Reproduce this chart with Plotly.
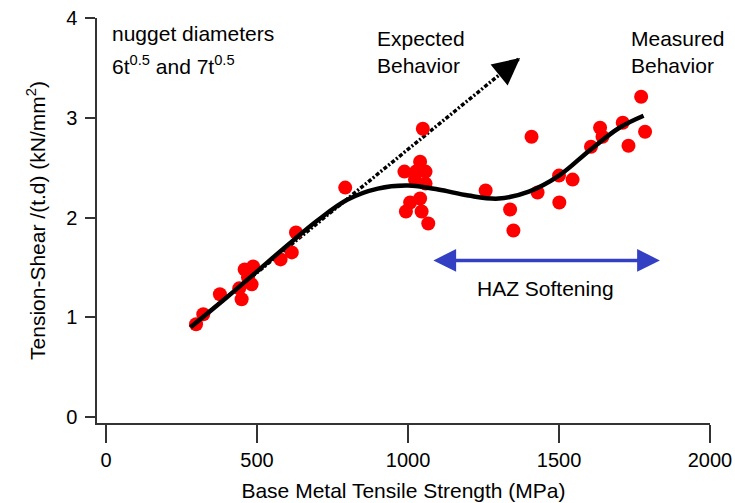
import plotly.graph_objects as go

# Measured data points
pts_x = [298, 322, 377, 449, 441, 482, 459, 487, 470, 578, 615, 629, 792,
         1049, 1409, 988, 1040, 1026, 1058, 1023, 1058, 1007, 1040, 993, 1045, 1067,
         1257, 1338, 1349, 1429, 1772, 1636, 1644, 1711, 1785, 1730, 1606, 1500, 1545, 1501]
pts_y = [0.93, 1.03, 1.23, 1.18, 1.29, 1.33, 1.48, 1.51, 1.40, 1.58, 1.65, 1.85, 2.30,
         2.89, 2.81, 2.46, 2.56, 2.46, 2.46, 2.38, 2.34, 2.15, 2.19, 2.06, 2.06, 1.94,
         2.27, 2.08, 1.87, 2.25, 3.21, 2.90, 2.81, 2.95, 2.86, 2.72, 2.71, 2.42, 2.38, 2.15]

# Measured behavior trend curve
curve_x = [280, 400, 500, 600, 700, 800, 900, 1000, 1100, 1200, 1300, 1400, 1500, 1600, 1700, 1780]
curve_y = [0.90, 1.20, 1.46, 1.72, 1.97, 2.18, 2.29, 2.32, 2.28, 2.22, 2.19, 2.26, 2.42, 2.67, 2.90, 3.02]

# Expected behavior line (start, end)
exp_x = [278, 1371]
exp_y = [0.90, 3.60]

# HAZ softening arrow extent
haz_x = [1079, 1834]
haz_y = 1.57

x_ticks = [0, 500, 1000, 1500, 2000]
y_ticks = [0, 1, 2, 3, 4]

FONT = "Liberation Sans, Arial, sans-serif"

fig = go.Figure()

fig.add_trace(go.Scatter(
    x=exp_x, y=exp_y, mode="lines",
    line=dict(color="black", width=3.5, dash="4px,2px,2px,2px"),
    hoverinfo="skip"))

fig.add_trace(go.Scatter(
    x=pts_x, y=pts_y, mode="markers",
    marker=dict(color="#ff0000", size=14, line=dict(width=0))))

fig.add_trace(go.Scatter(
    x=curve_x, y=curve_y, mode="lines", line_shape="spline",
    line=dict(color="black", width=4.5)))

# arrowhead for expected behavior
dx = 40
fig.add_annotation(
    x=exp_x[1], y=exp_y[1], ax=exp_x[1] - dx,
    ay=exp_y[1] - dx * (exp_y[1] - exp_y[0]) / (exp_x[1] - exp_x[0]),
    xref="x", yref="y", axref="x", ayref="y", text="", showarrow=True,
    arrowhead=2, arrowsize=1.8, arrowwidth=3, arrowcolor="black")

# HAZ softening double arrow
fig.add_annotation(
    x=haz_x[1], y=haz_y, ax=haz_x[0], ay=haz_y,
    xref="x", yref="y", axref="x", ayref="y", text="", showarrow=True,
    arrowhead=2, startarrowhead=2, arrowside="end+start",
    arrowsize=1.3, startarrowsize=1.3, arrowwidth=3.5, arrowcolor="#3340c4")

fig.add_annotation(x=1454, y=1.29, text="HAZ Softening", showarrow=False,
                   font=dict(size=21, color="black", family=FONT))
fig.add_annotation(x=13, y=0.962, xref="x", yref="paper",
                   xanchor="left", yanchor="middle", align="left",
                   text="nugget diameters",
                   showarrow=False, font=dict(size=21, color="black", family=FONT))
fig.add_annotation(x=13, y=0.883, xref="x", yref="paper",
                   xanchor="left", yanchor="middle", align="left",
                   text="6t<sup>0.5</sup> and 7t<sup>0.5</sup>",
                   showarrow=False, font=dict(size=21, color="black", family=FONT))
fig.add_annotation(x=892, y=3.93, xanchor="left", yanchor="top", align="left",
                   text="Expected<br>Behavior", showarrow=False,
                   font=dict(size=21, color="black", family=FONT))
fig.add_annotation(x=1733, y=3.93, xanchor="left", yanchor="top", align="left",
                   text="Measured<br>Behavior", showarrow=False,
                   font=dict(size=21, color="black", family=FONT))

fig.update_layout(
    width=735, height=503,
    margin=dict(l=97, r=25, t=18, b=80),
    paper_bgcolor="white", plot_bgcolor="white",
    showlegend=False,
    font=dict(family=FONT, size=20, color="black"),
    xaxis=dict(range=[-30, 2000], tickvals=x_ticks, showgrid=False, zeroline=False,
               automargin=False,
               showline=True, linecolor="#333", linewidth=1.5,
               ticks="outside", ticklen=18, tickwidth=1.5, tickcolor="#333",
               title=dict(text="Base Metal Tensile Strength (MPa)", standoff=14,
                          font=dict(size=21))),
    yaxis=dict(range=[-0.06, 4], tickvals=y_ticks, showgrid=False, zeroline=False,
               automargin=False,
               showline=True, linecolor="#333", linewidth=1.5,
               ticks="outside", ticklen=10, tickwidth=1.5, tickcolor="#333",
               ticklabelstandoff=4,
               title=dict(text="Tension-Shear /(t.d) (kN/mm<sup>2</sup>)", standoff=15,
                          font=dict(size=21))),
)

fig.write_html("out.html")
